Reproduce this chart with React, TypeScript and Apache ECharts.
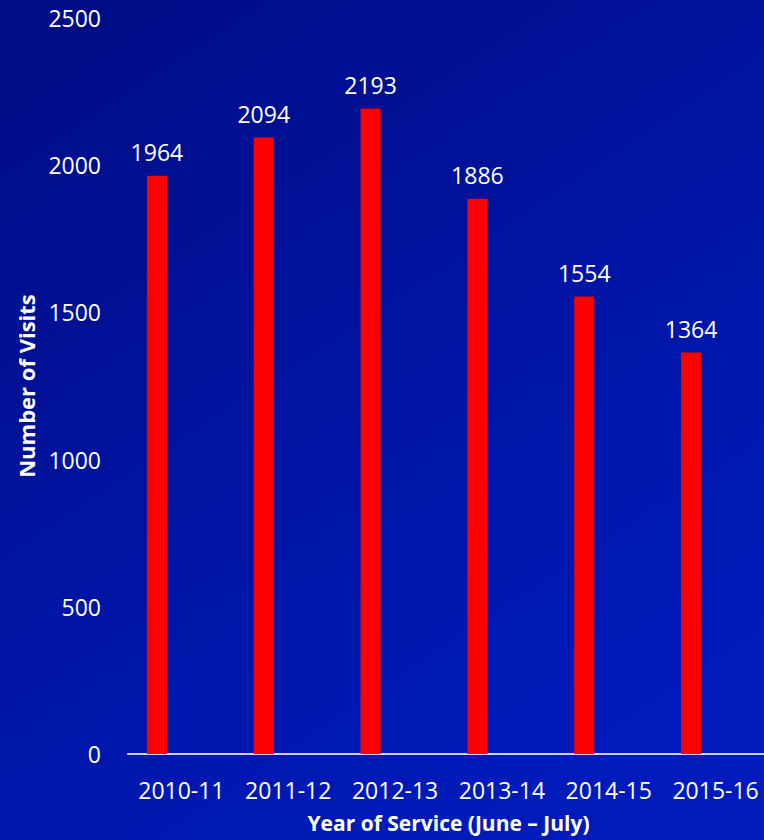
import React, { useEffect, useRef } from "react";
import * as echarts from "echarts";

const categories = ["2010-11", "2011-12", "2012-13", "2013-14", "2014-15", "2015-16"];
const visits = [1964, 2094, 2193, 1886, 1554, 1364];
const spacer = categories.map(() => null);
const yTicks = { min: 0, max: 2500, interval: 500 };

export default function App() {
  const ref = useRef<HTMLDivElement>(null);
  useEffect(() => {
    document.body.style.margin = "0";
    const chart = echarts.init(ref.current!, null, { renderer: "svg" });
    const font = "'Open Sans', sans-serif";
    const boldFont = "'Open Sans', sans-serif";
    chart.setOption({
      animation: false,
      backgroundColor: {
        type: "linear",
        x: 0,
        y: 0,
        x2: 0.6,
        y2: 1,
        colorStops: [
          { offset: 0, color: "#000c84" },
          { offset: 1, color: "#001bbb" },
        ],
      },
      grid: { left: 128, right: -5, top: 18, bottom: 86, outerBoundsMode: "none" },
      xAxis: {
        type: "category",
        data: categories,
        name: "Year of Service (June \u2013 July)",
        nameLocation: "middle",
        nameGap: 58,
        nameTextStyle: { color: "#ffffff", fontSize: 21, fontWeight: "bold", fontFamily: boldFont },
        axisLine: { show: true, lineStyle: { color: "#d0d0d8", width: 2 } },
        axisTick: { show: false },
        axisLabel: { color: "#ffffff", fontSize: 23, fontFamily: font, margin: 24, interval: 0 },
        splitLine: { show: false },
      },
      yAxis: {
        type: "value",
        min: yTicks.min,
        max: yTicks.max,
        interval: yTicks.interval,
        name: "Number of Visits",
        nameLocation: "middle",
        nameGap: 88,
        nameRotate: 90,
        nameTextStyle: { color: "#ffffff", fontSize: 22, fontWeight: "bold", fontFamily: boldFont },
        axisLine: { show: false },
        axisTick: { show: false },
        splitLine: { show: false },
        axisLabel: {
          color: "#ffffff",
          fontSize: 23,
          fontFamily: font,
          margin: 27,
          formatter: (v: number) => String(v),
        },
      },
      series: [
        {
          type: "bar",
          data: visits,
          barWidth: 20,
          barGap: "145%",
          itemStyle: { color: "#ff0000" },
          label: {
            show: true,
            position: "top",
            distance: 12,
            color: "#ffffff",
            fontSize: 23,
            fontFamily: font,
          },
        },
        {
          type: "bar",
          data: spacer,
          barWidth: 20,
          barGap: "145%",
          itemStyle: { color: "transparent" },
        },
      ],
    });
    return () => chart.dispose();
  }, []);
  return <div ref={ref} style={{ width: 764, height: 840 }} />;
}
